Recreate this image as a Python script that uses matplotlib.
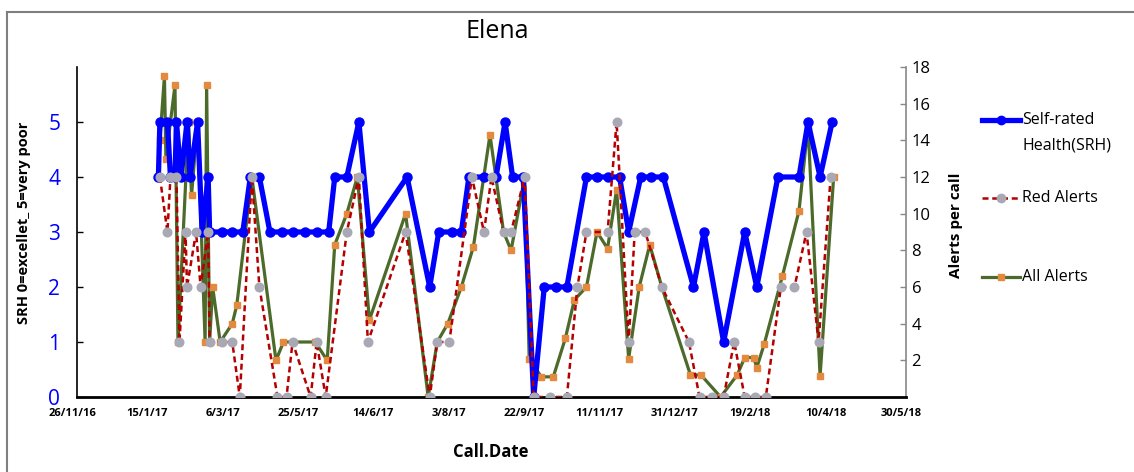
import matplotlib
matplotlib.use('Agg')
import matplotlib.pyplot as plt
from matplotlib.lines import Line2D
from matplotlib.transforms import ScaledTranslation
import pandas as pd

plt.rcParams['font.family'] = ['Open Sans', 'DejaVu Sans']

# ---------------- data ----------------
srh_dates = ['2017-01-19', '2017-01-20', '2017-01-25', '2017-01-27', '2017-01-30', '2017-01-31',
             '2017-02-03', '2017-02-07', '2017-02-09', '2017-02-14', '2017-02-17', '2017-02-21',
             '2017-02-22', '2017-03-02', '2017-03-09', '2017-03-16', '2017-03-21', '2017-03-27',
             '2017-04-03', '2017-04-11', '2017-04-18', '2017-04-26', '2017-05-04', '2017-05-12',
             '2017-05-16', '2017-05-24', '2017-06-01', '2017-06-08', '2017-07-03', '2017-07-18',
             '2017-07-24', '2017-08-02', '2017-08-08', '2017-08-13', '2017-08-23', '2017-08-31',
             '2017-09-06', '2017-09-11', '2017-09-18', '2017-09-25', '2017-10-02', '2017-10-10',
             '2017-10-17', '2017-10-30', '2017-11-06', '2017-11-13', '2017-11-21', '2017-11-27',
             '2017-12-05', '2017-12-12', '2017-12-20', '2018-01-09', '2018-01-16', '2018-01-29',
             '2018-02-12', '2018-02-20', '2018-03-06', '2018-03-20', '2018-03-26', '2018-04-03',
             '2018-04-11']
srh_values = [4, 5, 5, 4, 4, 5,
              4, 5, 4, 5, 3, 4,
              3, 3, 3, 3, 4, 4,
              3, 3, 3, 3, 3, 3,
              4, 4, 5, 3, 4, 2,
              3, 3, 3, 4, 4, 4,
              5, 4, 4, 0, 2, 2,
              2, 4, 4, 4, 4, 3,
              4, 4, 4, 2, 3, 1,
              3, 2, 4, 4, 5, 4,
              5]

red_dates = ['2017-01-20', '2017-01-25', '2017-01-27', '2017-01-31', '2017-02-02', '2017-02-06',
             '2017-02-07', '2017-02-13', '2017-02-16', '2017-02-21', '2017-02-22', '2017-03-02',
             '2017-03-09', '2017-03-14', '2017-03-22', '2017-03-27', '2017-04-08', '2017-04-14',
             '2017-04-18', '2017-04-30', '2017-05-04', '2017-05-10', '2017-05-24', '2017-06-01',
             '2017-06-07', '2017-07-02', '2017-07-18', '2017-07-23', '2017-07-31', '2017-08-15',
             '2017-08-23', '2017-08-28', '2017-09-05', '2017-09-10', '2017-09-19', '2017-09-25',
             '2017-10-06', '2017-10-17', '2017-10-24', '2017-10-30', '2017-11-13', '2017-11-19',
             '2017-11-27', '2017-12-01', '2017-12-08', '2017-12-19', '2018-01-06', '2018-01-13',
             '2018-01-21', '2018-01-29', '2018-02-05', '2018-02-12', '2018-02-19', '2018-02-26',
             '2018-03-08', '2018-03-17', '2018-03-25', '2018-04-02', '2018-04-10']
red_values = [12, 9, 12, 12, 3, 9,
              6, 9, 6, 9, 3, 3,
              3, 0, 12, 6, 0, 0,
              3, 0, 3, 0, 9, 12,
              3, 9, 0, 3, 3, 12,
              9, 12, 9, 9, 12, 0,
              0, 0, 6, 9, 9, 15,
              3, 9, 9, 6, 3, 0,
              0, 0, 3, 0, 0, 0,
              6, 6, 9, 3, 12]

all_dates = ['2017-01-20', '2017-01-23', '2017-01-24', '2017-01-30', '2017-02-01', '2017-02-08',
             '2017-02-10', '2017-02-14', '2017-02-19', '2017-02-20', '2017-02-22', '2017-02-24',
             '2017-03-01', '2017-03-09', '2017-03-12', '2017-03-22', '2017-04-07', '2017-04-12',
             '2017-05-03', '2017-05-11', '2017-05-16', '2017-05-24', '2017-05-31', '2017-06-08',
             '2017-07-02', '2017-07-17', '2017-07-23', '2017-07-30', '2017-08-08', '2017-08-16',
             '2017-08-27', '2017-09-05', '2017-09-10', '2017-09-19', '2017-09-22', '2017-09-30',
             '2017-10-08', '2017-10-16', '2017-10-22', '2017-10-30', '2017-11-06', '2017-11-13',
             '2017-11-19', '2017-11-27', '2017-12-04', '2017-12-11', '2017-12-19', '2018-01-07',
             '2018-01-14', '2018-01-27', '2018-02-07', '2018-02-12', '2018-02-18', '2018-02-20',
             '2018-02-25', '2018-03-09', '2018-03-20', '2018-03-26', '2018-04-03', '2018-04-12']
all_values = [14, 17.5, 13, 17, 3, 15,
              11, 15, 3, 17, 3, 6,
              3, 4, 5, 12, 2, 3,
              3, 2, 8.3, 10, 12, 4.2,
              10, 0, 3, 4, 6, 8.2,
              14.3, 9, 8, 12, 2.1, 1.1,
              1.1, 3.2, 5.3, 6, 9, 8.1,
              11.3, 2.1, 6, 8.3, 6, 1.2,
              1.2, 0, 1.2, 2.15, 2.15, 1.6,
              2.9, 6.6, 10.15, 14.8, 1.15, 12]

tick_dates = ['2016-11-26', '2017-01-15', '2017-03-06', '2017-04-25', '2017-06-14', '2017-08-03',
              '2017-09-22', '2017-11-11', '2017-12-31', '2018-02-19', '2018-04-10', '2018-05-30']
tick_labels = ['26/11/16', '15/1/17', '6/3/17', '25/5/17', '14/6/17', '3/8/17',
               '22/9/17', '11/11/17', '31/12/17', '19/2/18', '10/4/18', '30/5/18']
srh_ticks = [0, 1, 2, 3, 4, 5]
alert_ticks = [2, 4, 6, 8, 10, 12, 14, 16, 18]

legend_labels = ['Self-rated\nHealth(SRH)', 'Red Alerts', 'All Alerts']

# ---------------- figure ----------------
W, H = 1134, 472
fig = plt.figure(figsize=(W / 100, H / 100), dpi=100)
fig.patch.set_facecolor('white')

def fx(px):
    return px / W

def fy(py):
    return 1 - py / H

ax = fig.add_axes([fx(77), fy(397), fx(906) - fx(77), fy(67) - fy(397)])
axA = ax.twinx()
axR = ax.twinx()

BLUE = '#0000FF'
RED = '#B40000'
GRAY = '#A9A9B6'
ORANGE = '#E38A3E'
GREEN = '#4C6A2A'

# All alerts (bottom)
axA.plot(pd.to_datetime(all_dates), all_values, color=GREEN, lw=2.3,
         marker='s', ms=4.8, mfc=ORANGE, mec=ORANGE, zorder=2)
# SRH (middle)
ax.plot(pd.to_datetime(srh_dates), srh_values, color=BLUE, lw=3.8,
        marker='o', ms=6.5, mfc=BLUE, mec=BLUE, zorder=3)
# Red alerts (top)
axR.plot(pd.to_datetime(red_dates), red_values, color=RED, lw=1.8,
         dashes=(2.4, 1.5), marker='o', ms=6.2, mfc=GRAY, mec=GRAY, zorder=4)

axA.set_zorder(1)
ax.set_zorder(2)
axR.set_zorder(3)
for a in (ax, axA, axR):
    a.patch.set_visible(False)

xmin = pd.Timestamp(tick_dates[0])
xmax = pd.Timestamp(tick_dates[-1])
for a in (ax, axA, axR):
    a.set_xlim(xmin, xmax)

ax.set_ylim(0, 6)
axA.set_ylim(0, 18)
axR.set_ylim(0, 18)

# x axis
ax.set_xticks(pd.to_datetime(tick_dates))
ax.set_xticklabels(tick_labels, fontsize=8, fontweight='bold')
ax.tick_params(axis='x', length=0, pad=8)
shift = ScaledTranslation(-5 / 100, 0, fig.dpi_scale_trans)
for lab in ax.get_xticklabels():
    lab.set_transform(lab.get_transform() + shift)

# left axis
ax.set_yticks(srh_ticks)
ax.set_yticklabels([str(t) for t in srh_ticks], color=BLUE, fontsize=15)
ax.tick_params(axis='y', direction='in', length=4, width=1, pad=12)

# right axis
axA.set_yticks(alert_ticks)
axA.set_yticklabels([str(t) for t in alert_ticks], fontsize=12)
axA.tick_params(axis='y', direction='in', length=4, width=1, color='#888888', pad=4)

axR.set_yticks([])
for s in axR.spines.values():
    s.set_visible(False)
axR.tick_params(axis='x', length=0, labelbottom=False)
axA.tick_params(axis='x', length=0, labelbottom=False)

for a in (ax, axA):
    a.spines['top'].set_visible(False)
ax.spines['right'].set_visible(False)
axA.spines['left'].set_visible(False)
axA.spines['bottom'].set_visible(False)
axA.spines['right'].set_color('#888888')
axA.spines['right'].set_linewidth(1.2)
ax.spines['left'].set_linewidth(1.2)
ax.spines['bottom'].set_linewidth(2.0)
ax.spines['left'].set_color('black')

# labels
fig.text(fx(497), fy(32), 'Elena', ha='center', va='center', fontsize=18)
fig.text(fx(491), fy(452), 'Call.Date', ha='center', va='center', fontsize=12, fontweight='bold')
fig.text(fx(24), fy(223), 'SRH 0=excellet_ 5=very poor', ha='center', va='center',
         rotation=90, fontsize=10.5, fontweight='bold')
fig.text(fx(956), fy(225), 'Alerts per call', ha='center', va='center',
         rotation=90, fontsize=11, fontweight='bold')

# legend (manual)
def legend_handle(py, color, lw, marker, mfc, ms, dashes=None):
    ln = Line2D([fx(982), fx(1020)], [fy(py), fy(py)], transform=fig.transFigure,
                color=color, lw=lw)
    if dashes:
        ln.set_dashes(dashes)
    fig.add_artist(ln)
    mk = Line2D([fx(1001)], [fy(py)], transform=fig.transFigure, ls='none',
                marker=marker, ms=ms, mfc=mfc, mec=mfc)
    fig.add_artist(mk)

legend_handle(120, BLUE, 3.8, 'o', BLUE, 6)
legend_handle(198, RED, 1.8, 'o', GRAY, 6, dashes=(2.4, 1.5))
legend_handle(277, GREEN, 2.3, 's', ORANGE, 5)
fig.text(fx(1022), fy(120), legend_labels[0].split('\n')[0], ha='left', va='center', fontsize=11.5)
fig.text(fx(1022), fy(145), legend_labels[0].split('\n')[1], ha='left', va='center', fontsize=11.5)
fig.text(fx(1022), fy(198), legend_labels[1], ha='left', va='center', fontsize=11.5)
fig.text(fx(1022), fy(277), legend_labels[2], ha='left', va='center', fontsize=11.5)

# outer frame (left & top)
fig.add_artist(Line2D([fx(7), fx(7)], [fy(12), fy(472)], transform=fig.transFigure,
                      color='#7F7F7F', lw=1.5))
fig.add_artist(Line2D([fx(7), fx(1134)], [fy(12), fy(12)], transform=fig.transFigure,
                      color='#7F7F7F', lw=1.5))

fig.savefig('out.png', dpi=100)
